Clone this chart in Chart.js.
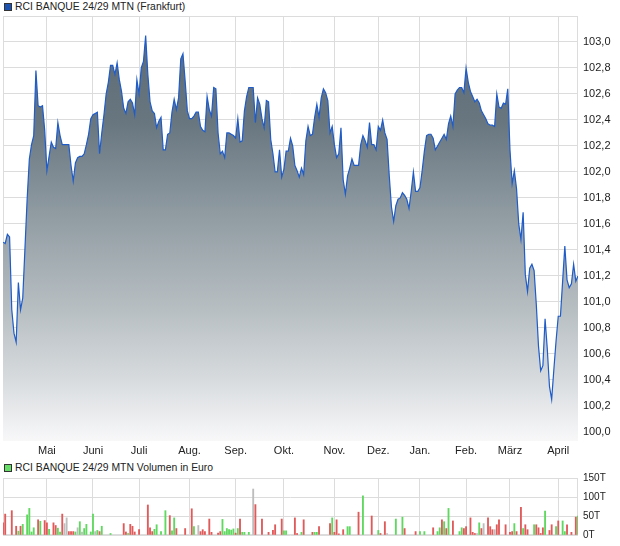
<!DOCTYPE html>
<html><head><meta charset="utf-8">
<script src="https://cdn.jsdelivr.net/npm/chart.js@4.4.1/dist/chart.umd.min.js"></script>
<style>
html,body{margin:0;padding:0;background:#fff;width:620px;height:546px;overflow:hidden;font-family:"Liberation Sans",Arial,sans-serif;}
.leg{position:absolute;left:15px;font-size:10.4px;line-height:12px;color:#222;white-space:nowrap;}
.sq{position:absolute;left:4px;width:6px;height:6px;border:1px solid #333;}
#w1{position:absolute;left:0;top:0;width:620px;height:460px;}
#w2{position:absolute;left:0;top:460px;width:620px;height:86px;}
</style></head>
<body>
<div class="sq" style="top:3px;background:#1c52b0;"></div>
<div class="leg" style="top:1px;">RCI BANQUE 24/29 MTN (Frankfurt)</div>
<div class="sq" style="top:464px;background:#66dd66;"></div>
<div class="leg" style="top:462px;">RCI BANQUE 24/29 MTN Volumen in Euro</div>
<div id="w1"><canvas id="c1" width="620" height="460"></canvas></div>
<div id="w2"><canvas id="c2" width="620" height="86"></canvas></div>
<script>
// month start positions (trading-day index) and labels
const monthIdx = [20,41,62,85,106,128,151,171,190,211,231,253];
const monthLabels = ['Mai','Juni','Juli','Aug.','Sep.','Okt.','Nov.','Dez.','Jan.','Feb.','März','April'];

// daily closing prices (one per trading day)
const priceValues = [
101.46,101.45,101.52,101.50,100.94,100.76,100.69,101.15,100.94,101.03,
101.41,101.79,102.10,102.21,102.28,102.78,102.51,102.50,102.51,102.32,
102.01,102.12,102.23,102.19,102.18,102.38,102.28,102.21,102.21,102.21,
102.21,102.05,101.93,102.07,102.11,102.12,102.12,102.14,102.21,102.29,
102.41,102.44,102.45,102.46,102.14,102.30,102.44,102.60,102.69,102.82,
102.82,102.75,102.84,102.71,102.62,102.49,102.45,102.54,102.56,102.53,
102.44,102.71,102.60,102.80,102.85,103.05,102.75,102.54,102.47,102.45,
102.34,102.39,102.42,102.17,102.17,102.29,102.30,102.46,102.56,102.48,
102.57,102.87,102.91,102.70,102.47,102.41,102.41,102.43,102.46,102.46,
102.35,102.32,102.31,102.58,102.48,102.43,102.65,102.64,102.30,102.14,
102.16,102.11,102.30,102.30,102.29,102.28,102.26,102.41,102.23,102.24,
102.47,102.58,102.65,102.65,102.65,102.38,102.57,102.52,102.41,102.34,
102.55,102.54,102.25,102.14,102.00,102.00,102.17,101.96,102.02,102.16,
102.16,102.26,102.20,102.05,102.01,101.96,102.03,101.98,102.24,102.35,
102.28,102.29,102.42,102.52,102.42,102.57,102.64,102.61,102.55,102.30,
102.35,102.21,102.11,102.14,102.34,101.94,101.83,101.97,102.03,102.10,
102.05,102.05,102.05,102.21,102.28,102.24,102.19,102.38,102.21,102.21,
102.17,102.35,102.32,102.40,102.30,102.25,101.97,101.73,101.62,101.74,
101.79,101.80,101.84,101.82,101.79,101.72,101.85,102.00,101.85,101.85,
101.88,102.01,102.16,102.28,102.29,102.29,102.26,102.17,102.20,102.23,
102.26,102.29,102.25,102.37,102.43,102.35,102.60,102.63,102.65,102.65,
102.61,102.80,102.69,102.62,102.58,102.54,102.56,102.53,102.47,102.44,
102.41,102.37,102.36,102.36,102.35,102.60,102.50,102.49,102.53,102.52,
102.64,102.17,101.91,102.01,101.87,101.60,101.48,101.69,101.21,101.08,
101.26,101.29,101.24,100.98,100.66,100.47,100.51,100.87,100.64,100.35,
100.25,100.48,100.70,100.89,100.89,101.16,101.43,101.17,101.11,101.14,
101.29,101.16,101.20
];
const priceTicks = [100.0,100.2,100.4,100.6,100.8,101.0,101.2,101.4,101.6,101.8,102.0,102.2,102.4,102.6,102.8,103.0,103.2];

// volume (thousand euro) on trading days with turnover; r = down, g = up, n = unchanged
const volIdx = [0,1,4,6,7,8,9,11,12,13,14,16,17,19,20,21,23,24,25,26,27,28,29,30,31,32,33,34,35,36,37,38,40,41,42,43,44,45,49,
55,56,57,58,59,60,62,66,67,68,69,70,72,74,76,77,78,79,83,86,87,89,90,91,92,94,95,98,99,100,101,102,103,104,105,106,107,108,109,110,112,
114,115,118,121,123,124,127,128,129,133,134,136,137,141,142,143,144,149,150,151,152,153,155,157,158,162,164,168,171,172,174,175,179,182,183,
188,190,192,196,198,199,200,201,202,203,205,208,209,210,211,213,214,215,216,217,218,219,221,222,223,224,225,226,229,231,232,233,234,236,237,
238,239,242,243,244,245,246,247,249,250,252,253,255,256,257,259,261,262];
const volValues = [32,55,64,23,10,23,28,53,70,8,19,40,36,38,32,15,32,25,18,8,55,30,45,9,9,9,8,19,35,8,17,28,8,55,9,12,9,23,4,
30,8,4,28,23,8,14,79,19,9,15,27,9,64,51,11,45,17,17,69,22,25,9,14,9,42,7,5,9,41,9,17,14,13,16,5,17,42,7,7,7,
121,80,42,7,12,27,42,11,11,45,4,7,40,7,7,7,22,30,45,7,40,3,14,22,22,60,103,50,12,4,35,4,42,47,17,
9,9,9,19,9,19,40,35,17,70,37,9,19,17,22,45,7,4,4,32,17,30,45,22,14,14,27,40,27,7,9,30,9,73,17,
27,14,27,27,19,4,19,63,12,27,22,37,37,9,27,7,47,50];
const volDir = ['r','r','r','r','g','r','g','g','g','g','g','r','g','r','r','g','r','r','g','g','r','n','n','r','r','r','g','n','g','n','g','g','g','g','n','g','r','g','g',
'r','r','g','r','r','r','r','r','r','r','g','g','g','g','r','g','g','r','r','r','g','n','r','r','r','r','r','r','r','g','g','g','g','g','g','r','g','r','g','g','g',
'n','r','r','r','r','r','r','g','g','r','r','g','r','r','g','g','r','r','g','r','r','r','r','g','g','r','g','r','g','r','r','n','g','g','r',
'r','g','g','r','g','g','r','g','r','g','r','g','g','r','r','r','r','r','n','g','r','n','r','r','r','n','r','r','r','r','r','g','r','r','g',
'r','r','g','r','r','r','r','g','r','r','g','r','g','g','r','r','r','g'];
const volTicks = [0,50,100,150];

const FONT = '"Liberation Sans", Arial, sans-serif';
Chart.defaults.font.family = FONT;
const GRID = '#dcdcdc';
const dirColor = {r:'#e05a5a', g:'#5fd85f', n:'#bdbdbd'};

const frame = {
  id:'frame',
  beforeDatasetsDraw(chart){
    const {ctx, chartArea:a} = chart;
    ctx.save();
    ctx.strokeStyle = GRID; ctx.lineWidth = 1;
    ctx.strokeRect(Math.round(a.left)+0.5, Math.round(a.top)+0.5, Math.round(a.right-a.left)-1, Math.round(a.bottom-a.top)-1);
    ctx.restore();
  }
};

function monthTicks(s){ s.ticks = monthIdx.map(v => ({value:v})); }

new Chart(document.getElementById('c1'), {
  type:'line',
  data:{datasets:[{
    data: priceValues.map((v,i)=>({x:i, y:v})),
    borderColor:'#1f5cc8', borderWidth:1.2, pointRadius:0, tension:0, fill:'start',
    backgroundColor:(c)=>{
      const a = c.chart.chartArea;
      if(!a) return '#8c979e';
      const g = c.chart.ctx.createLinearGradient(0,a.top,0,a.bottom);
      g.addColorStop(0,'#5a6973');
      g.addColorStop(0.25,'#687680');
      g.addColorStop(0.5,'#96a1a7');
      g.addColorStop(0.7,'#b9c0c4');
      g.addColorStop(0.85,'#d6dadd');
      g.addColorStop(1,'#f8f8f9');
      return g;
    }
  }]},
  options:{
    responsive:false, animation:false, events:[],
    layout:{padding:{left:3, top:16, right:0, bottom:0}},
    plugins:{legend:{display:false}, tooltip:{enabled:false}},
    scales:{
      x:{type:'linear', min:0, max:priceValues.length-1, afterBuildTicks:monthTicks,
         afterFit:(s)=>{s.height=19;},
         ticks:{autoSkip:false, maxRotation:0, padding:3, color:'#222', font:{size:11},
                callback:(v)=>{const k=monthIdx.indexOf(v); return k>=0?monthLabels[k]:'';}},
         grid:{color:GRID, drawTicks:false}, border:{display:false}},
      y:{position:'right', min:99.93, max:103.2,
         afterBuildTicks:(s)=>{s.ticks = priceTicks.map(v=>({value:v}));},
         afterFit:(s)=>{s.width=42;},
         ticks:{padding:5, color:'#222', font:{size:11},
                callback:(v)=> v>103.1 ? '' : v.toFixed(1).replace('.',',')},
         grid:{color:GRID, drawTicks:false}, border:{display:false}}
    }
  },
  plugins:[frame]
});

new Chart(document.getElementById('c2'), {
  type:'bar',
  data:{datasets:[{
    data: volIdx.map((v,k)=>({x:v, y:volValues[k]})),
    backgroundColor: volDir.map(d=>dirColor[d]),
    barThickness:1.2, borderWidth:0
  }]},
  options:{
    responsive:false, animation:false, events:[],
    layout:{padding:{left:3, top:18, right:0, bottom:9}},
    plugins:{legend:{display:false}, tooltip:{enabled:false}},
    scales:{
      x:{type:'linear', min:0, max:priceValues.length-1, offset:false, afterBuildTicks:monthTicks,
         afterFit:(s)=>{s.height=0;},
         ticks:{display:false},
         grid:{color:GRID, drawTicks:false, offset:false}, border:{display:false}},
      y:{position:'right', min:0, max:150,
         afterBuildTicks:(s)=>{s.ticks = volTicks.map(v=>({value:v}));},
         afterFit:(s)=>{s.width=42;},
         ticks:{padding:5, color:'#222', font:{size:10}, callback:(v)=> v+'T'},
         grid:{color:GRID, drawTicks:false}, border:{display:false}}
    }
  },
  plugins:[frame]
});
</script>
</body></html>
